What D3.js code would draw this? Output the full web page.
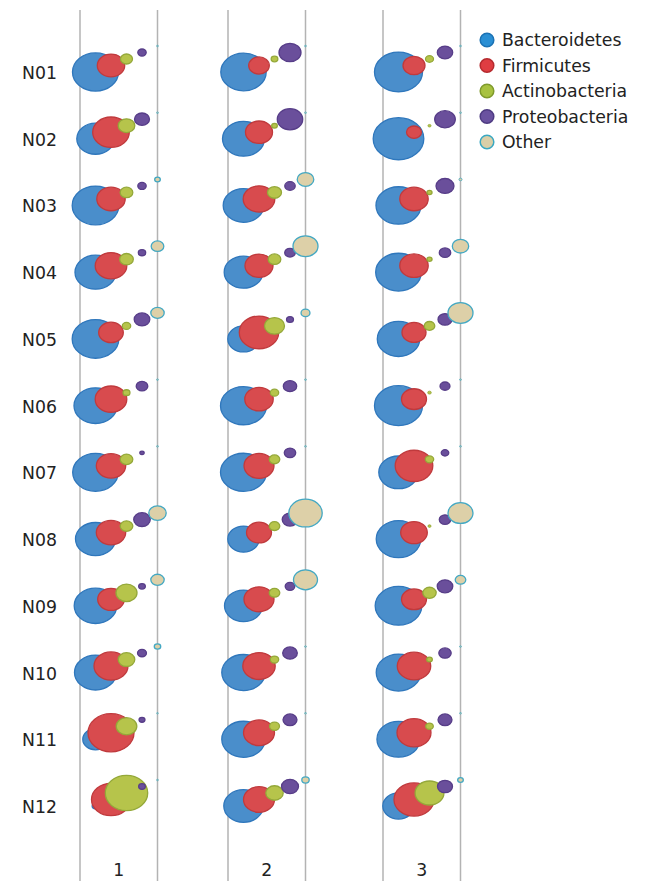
<!DOCTYPE html>
<html><head><meta charset="utf-8">
<script src="https://cdn.jsdelivr.net/npm/d3@7"></script>
<style>html,body{margin:0;padding:0;background:#fff;}svg{display:block;}</style>
</head><body>
<script>
// ---- data (relative abundance, %) ----
const samples = ["N01","N02","N03","N04","N05","N06","N07","N08","N09","N10","N11","N12"];
const groups = ["1","2","3"];
const phyla = ["Bacteroidetes","Firmicutes","Actinobacteria","Proteobacteria","Other"];

// each row: [Bacteroidetes, Firmicutes, Actinobacteria, Proteobacteria, Other]
const group1 = [
  [66.1,23.5,4.5,2.2,0.1],
  [43.7,41.9,8.6,7.0,0.1],
  [67.9,25.2,5.0,2.2,1.0],
  [52.5,31.2,5.8,1.7,5.0],
  [67.9,18.9,2.2,7.6,5.6],
  [57.8,31.2,1.5,4.2,0.1],
  [65.0,27.0,5.0,0.6,0.1],
  [50.0,27.0,5.0,8.6,9.5],
  [56.7,22.1,13.8,1.4,5.6],
  [55.1,36.1,8.6,2.5,1.3],
  [20.2,66.1,13.3,1.1,0.05],
  [1.4,47.5,56.2,1.4,0.1]
];
const group2 = [
  [64.4,13.3,1.4,15.1,0.1],
  [55.1,22.8,1.0,20.2,0.1],
  [51.5,31.2,6.1,3.4,8.6],
  [46.6,24.5,5.0,3.5,19.5],
  [30.8,48.5,12.5,1.5,2.5],
  [66.1,25.2,2.2,5.6,0.1],
  [66.1,28.1,3.5,4.1,0.1],
  [30.8,19.5,3.5,7.6,34.9],
  [45.1,28.1,3.5,2.9,18.0],
  [58.9,32.8,2.2,6.7,0.1],
  [58.9,30.0,3.1,6.1,0.1],
  [48.5,30.0,9.5,9.0,1.7]
];
const group3 = [
  [72.0,15.1,2.0,7.4,0.1],
  [80.0,7.0,0.3,13.3,0.1],
  [63.3,25.2,0.8,10.1,0.3],
  [65.0,25.2,0.8,4.1,8.4],
  [56.2,18.0,3.5,6.1,19.5],
  [72.0,19.5,0.4,3.1,0.1],
  [48.5,44.2,2.2,1.8,0.1],
  [62.0,22.1,0.3,4.1,19.5],
  [67.9,19.5,5.6,7.6,3.5],
  [62.0,35.0,1.0,4.8,0.1],
  [58.0,36.0,1.8,6.1,0.1],
  [30.8,50.0,26.0,7.0,1.0]
];
const groupValues = [group1, group2, group3];

// ---- styles ----
const fills   = ["#4a8ecb","#d84b4e","#b6c44b","#6a4f9b","#ddd0a8"];
const strokes = ["#2f77bc","#c03a3d","#94a839","#573d88","#43a8c3"];
const legendFills   = ["#2a8fd4","#df3d42","#a8c240","#6a52a0","#dacfa8"];
const legendStrokes = ["#1b72b4","#b52a2e","#7f9a2c","#4e3b82","#3aa8c2"];

const W = 656, H = 881;
const svg = d3.select("body").append("svg").attr("width", W).attr("height", H);

const font = "'DejaVu Sans', sans-serif";

// scales
const groupLeft = d3.scaleOrdinal().domain(groups).range([80, 228, 383]);
const groupWidth = 77.5;
const xPos = d3.scaleLinear().domain([-1, 4]).range([0, groupWidth]);
const yRow = d3.scalePoint().domain(samples).range([72, 806]);
const yOff = d3.scaleLinear().domain([0, 4]).range([0, -26]);
const rScale = d3.scaleSqrt().domain([0, 100]).range([0, 28.3]);
const aspect = 0.83;

// vertical lines (group boundaries)
const lineData = [];
groups.forEach(g => { lineData.push(groupLeft(g)); lineData.push(groupLeft(g) + xPos(4)); });
svg.append("g").selectAll("line").data(lineData).join("line")
  .attr("x1", d => d).attr("x2", d => d)
  .attr("y1", 10).attr("y2", H)
  .attr("stroke", "#b3b3b3").attr("stroke-width", 1.5);

// bubbles: series by series
const bubbles = [];
phyla.forEach((p, pi) => {
  groups.forEach((g, gi) => {
    samples.forEach((s, si) => {
      bubbles.push({p, pi, g, s, v: groupValues[gi][si][pi]});
    });
  });
});
svg.append("g").selectAll("ellipse").data(bubbles).join("ellipse")
  .attr("cx", d => groupLeft(d.g) + xPos(d.pi))
  .attr("cy", d => yRow(d.s) + yOff(d.pi))
  .attr("rx", d => Math.max(rScale(d.v), 0.8))
  .attr("ry", d => Math.max(rScale(d.v) * aspect, 0.7))
  .attr("fill", d => fills[d.pi])
  .attr("stroke", d => strokes[d.pi])
  .attr("stroke-width", d => rScale(d.v) < 2 ? 0.8 : 1.3);

// row labels
svg.append("g").selectAll("text").data(samples).join("text")
  .attr("x", 22).attr("y", d => yRow(d) + 7)
  .attr("font-family", font).attr("font-size", 17.3).attr("fill", "#222")
  .text(d => d);

// group labels
svg.append("g").selectAll("text").data(groups).join("text")
  .attr("x", d => groupLeft(d) + groupWidth / 2).attr("y", 876)
  .attr("text-anchor", "middle")
  .attr("font-family", font).attr("font-size", 17.3).attr("fill", "#222")
  .text(d => d);

// legend
const legY = d3.scalePoint().domain(phyla).range([40, 142]);
const leg = svg.append("g").selectAll("g").data(phyla).join("g")
  .attr("transform", d => `translate(487,${legY(d)})`);
leg.append("circle").attr("r", 6.8)
  .attr("fill", (d, i) => legendFills[i]).attr("stroke", (d, i) => legendStrokes[i]).attr("stroke-width", 1.5);
leg.append("text").attr("x", 15).attr("y", 6.3)
  .attr("font-family", font).attr("font-size", 17.3).attr("fill", "#222")
  .text(d => d);
</script>
</body></html>
